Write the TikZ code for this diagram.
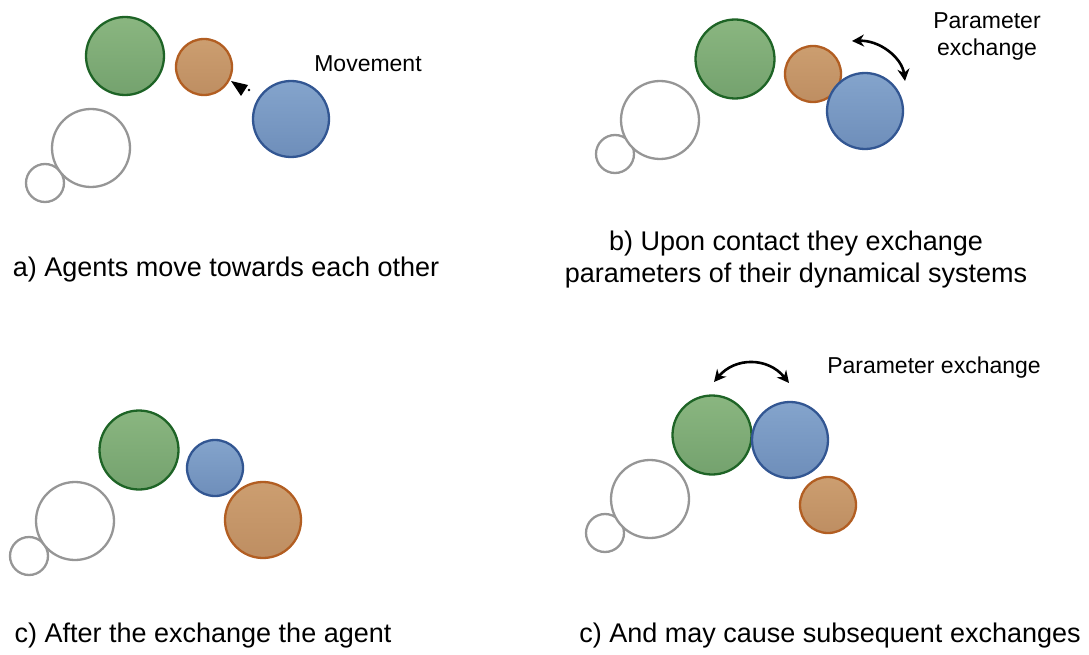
\documentclass[tikz,border=0pt]{standalone}
\usepackage{fontspec}
\setmainfont{Liberation Sans}
\usetikzlibrary{arrows.meta}
\definecolor{gfill}{RGB}{138,182,128}
\definecolor{gfillb}{RGB}{116,162,110}
\definecolor{gline}{RGB}{30,100,38}
\definecolor{ofill}{RGB}{204,158,112}
\definecolor{ofillb}{RGB}{190,142,98}
\definecolor{oline}{RGB}{178,94,34}
\definecolor{bfill}{RGB}{132,164,204}
\definecolor{bfillb}{RGB}{110,142,186}
\definecolor{bline}{RGB}{50,86,146}
\definecolor{gray1}{RGB}{150,150,150}
\tikzset{
  ag/.style={circle,inner sep=0pt,minimum size=#1,line width=2.3pt},
  gc/.style={ag=#1,draw=gline,top color=gfill,bottom color=gfillb},
  oc/.style={ag=#1,draw=oline,top color=ofill,bottom color=ofillb},
  bc/.style={ag=#1,draw=bline,top color=bfill,bottom color=bfillb},
  wc/.style={ag=#1,draw=gray1,fill=white},
  lbl/.style={font=\fontsize{23}{27}\selectfont,align=center,inner sep=0pt},
  captxt/.style={font=\fontsize{27}{32}\selectfont,align=center,inner sep=0pt},
  xarr/.style={line width=2.6pt,{Stealth[length=12pt,width=12pt]}-{Stealth[length=12pt,width=12pt]}}
}
\begin{document}
\begin{tikzpicture}[x=1pt,y=-1pt]
\useasboundingbox (0,0) rectangle (1089,655);
% panel a
\node[wc=38pt] (a1) at (45,183) {};
\node[wc=78pt] (a2) at (91,148) {};
\node[gc=78pt] (a3) at (125,56) {};
\node[oc=56pt] (a4) at (204,67) {};
\node[bc=76pt] (a5) at (291,119) {};
\node[lbl] (am) at (368,64) {Movement};
\fill (231,81) -- (248,85) -- (241,96) -- cycle;
\fill (249,90) circle (1.4pt);
\node[captxt] (ac) at (226,270) {a) Agents move towards each other};
% panel b
\node[wc=38pt] (b1) at (615,154) {};
\node[wc=78pt] (b2) at (660,120) {};
\node[gc=79pt] (b3) at (735,59) {};
\node[oc=56pt] (b4) at (813,74) {};
\node[bc=76pt] (b5) at (865,111) {};
\node[lbl] (bl) at (987,36) {Parameter\\exchange};
\coordinate (bs) at (852,41);
\coordinate (be) at (905,81);
\draw[xarr] (bs) .. controls (880,40) and (902,58) .. (be);
\node[captxt] (bcap) at (796,260) {b) Upon contact they exchange\\parameters of their dynamical systems};
% panel c
\node[wc=38pt] (c1) at (29,556) {};
\node[wc=78pt] (c2) at (75,521) {};
\node[gc=79pt] (c3) at (139,450) {};
\node[bc=56pt] (c4) at (215,468) {};
\node[oc=76pt] (c5) at (263,520) {};
\node[captxt] (ccap) at (203,636) {c) After the exchange the agent};
% panel d
\node[wc=38pt] (d1) at (605,533) {};
\node[wc=78pt] (d2) at (650,499) {};
\node[gc=79pt] (d3) at (712,435) {};
\node[bc=76pt] (d4) at (790,440) {};
\node[oc=56pt] (d5) at (828,505) {};
\node[lbl] (dl) at (934,368) {Parameter exchange};
\coordinate (ds) at (714,382);
\coordinate (de) at (789,383);
\draw[xarr] (ds) .. controls (735,357) and (768,357) .. (de);
\node[captxt] (dcap) at (830,636) {c) And may cause subsequent exchanges};
\end{tikzpicture}
\end{document}
